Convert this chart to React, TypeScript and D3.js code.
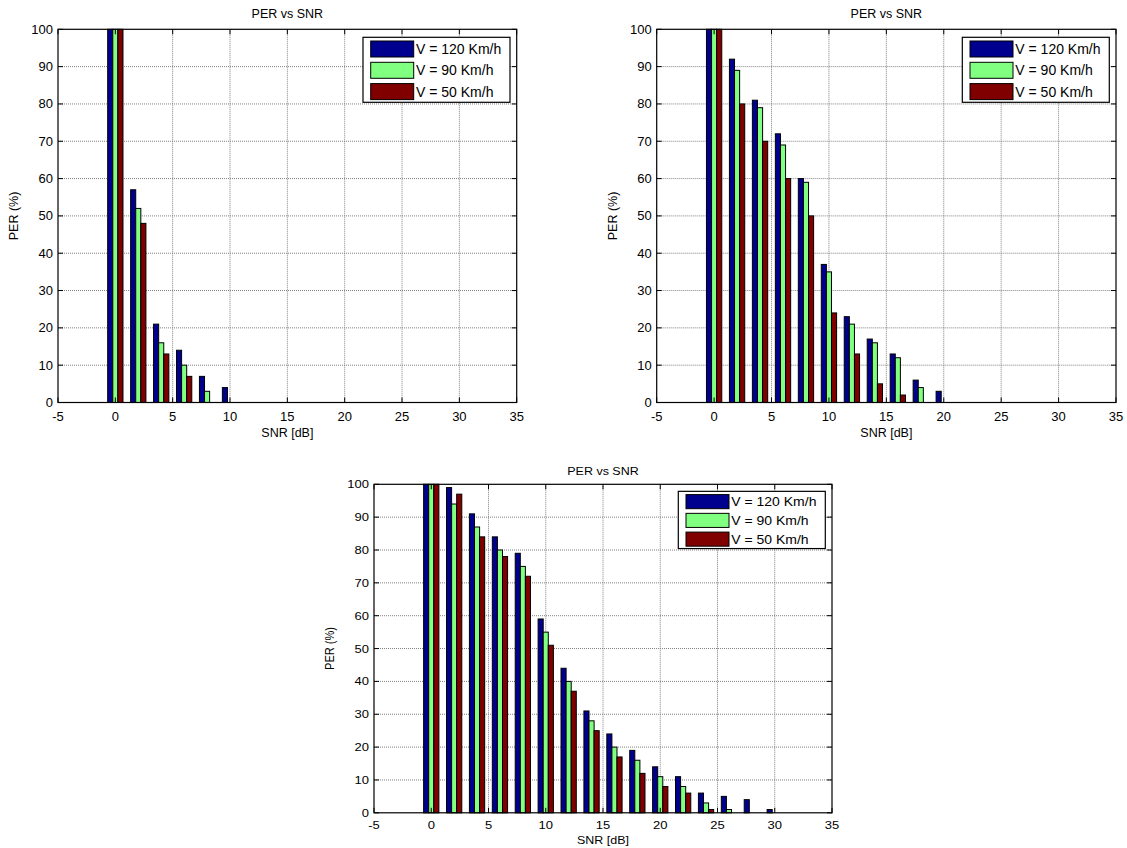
import React from "react";
import * as d3 from "d3";

const snrGroups = [0, 2, 4, 6, 8, 10, 12, 14, 16, 18, 20, 22, 24, 26, 28, 30];
const seriesNames = ["V = 120 Km/h", "V = 90 Km/h", "V = 50 Km/h"];
const seriesColors = ["#00008F", "#80FF80", "#800000"];
const xTicks = [-5, 0, 5, 10, 15, 20, 25, 30, 35];
const yTicks = [0, 10, 20, 30, 40, 50, 60, 70, 80, 90, 100];

const p1v120 = [100, 57, 21, 14, 7, 4, 0, 0, 0, 0, 0, 0, 0, 0, 0, 0];
const p1v90 = [100, 52, 16, 10, 3, 0, 0, 0, 0, 0, 0, 0, 0, 0, 0, 0];
const p1v50 = [100, 48, 13, 7, 0, 0, 0, 0, 0, 0, 0, 0, 0, 0, 0, 0];

const p2v120 = [100, 92, 81, 72, 60, 37, 23, 17, 13, 6, 3, 0, 0, 0, 0, 0];
const p2v90 = [100, 89, 79, 69, 59, 35, 21, 16, 12, 4, 0, 0, 0, 0, 0, 0];
const p2v50 = [100, 80, 70, 60, 50, 24, 13, 5, 2, 0, 0, 0, 0, 0, 0, 0];

const p3v120 = [100, 99, 91, 84, 79, 59, 44, 31, 24, 19, 14, 11, 6, 5, 4, 1];
const p3v90 = [100, 94, 87, 80, 75, 55, 40, 28, 20, 16, 11, 8, 3, 1, 0, 0];
const p3v50 = [100, 97, 84, 78, 72, 51, 37, 25, 17, 12, 8, 6, 1, 0, 0, 0];

const FONT = "Liberation Sans, Arial, sans-serif";

type PanelProps = {
  left: number;
  top: number;
  right: number;
  bottom: number;
  series: number[][];
  tickBase: number;
  labelBase: number;
  titleBase: number;
  yLabelX: number;
};

function T({ x, y, ky, children, anchor = "start", size = 13, rotate = 0 }: any) {
  return (
    <g transform={`translate(${x},${y}) rotate(${rotate}) scale(1,${ky})`}>
      <text x={0} y={0} textAnchor={anchor} fontSize={size} fontFamily={FONT} fill="#000">
        {children}
      </text>
    </g>
  );
}

function Panel(p: PanelProps) {
  const x = d3.scaleLinear().domain([-5, 35]).range([p.left, p.right]);
  const y = d3.scaleLinear().domain([0, 100]).range([p.bottom, p.top]);
  const ky = (p.bottom - p.top) / 373.2;
  const bw = 2 * (2 / 3) / 3; // bar width in data units
  const tickLen = 5;

  // legend geometry
  const lgW = 147;
  const lgH = 65 * ky;
  const lgX = p.right - 6.7 - lgW;
  const lgY = p.top + 8 * ky;
  const rowPitch = 21.3 * ky;
  const swH = 16 * ky;

  return (
    <g>
      <rect x={p.left} y={p.top} width={p.right - p.left} height={p.bottom - p.top} fill="#fff" />
      {xTicks.slice(1, -1).map((t) => (
        <line key={"gx" + t} x1={x(t)} x2={x(t)} y1={p.top} y2={p.bottom} stroke="#808080" strokeDasharray="1,1" />
      ))}
      {yTicks.slice(1, -1).map((t) => (
        <line key={"gy" + t} y1={y(t)} y2={y(t)} x1={p.left} x2={p.right} stroke="#808080" strokeDasharray="1,1" />
      ))}
      {p.series.map((vals, si) =>
        vals.map((v, i) => {
          const cx = snrGroups[i] + (si - 1) * bw;
          const x0 = x(cx - bw / 2);
          const x1 = x(cx + bw / 2);
          return (
            <rect
              key={`b${si}-${i}`}
              x={x0}
              y={y(v)}
              width={x1 - x0}
              height={y(0) - y(v)}
              fill={seriesColors[si]}
              stroke="#000"
              strokeWidth={1}
            />
          );
        })
      )}
      {xTicks.map((t) => (
        <g key={"tx" + t}>
          <line x1={x(t)} x2={x(t)} y1={p.bottom} y2={p.bottom - tickLen} stroke="#000" />
          <line x1={x(t)} x2={x(t)} y1={p.top} y2={p.top + tickLen} stroke="#000" />
        </g>
      ))}
      {yTicks.map((t) => (
        <g key={"ty" + t}>
          <line y1={y(t)} y2={y(t)} x1={p.left} x2={p.left + tickLen} stroke="#000" />
          <line y1={y(t)} y2={y(t)} x1={p.right} x2={p.right - tickLen} stroke="#000" />
        </g>
      ))}
      <rect x={p.left} y={p.top} width={p.right - p.left} height={p.bottom - p.top} fill="none" stroke="#000" strokeWidth={1.2} />
      {xTicks.map((t) => (
        <T key={"lx" + t} x={x(t)} y={p.tickBase} ky={ky} anchor="middle">
          {String(t)}
        </T>
      ))}
      {yTicks.map((t) => (
        <T key={"ly" + t} x={p.left - 5} y={y(t) + 4.5 * ky} ky={ky} anchor="end">
          {String(t)}
        </T>
      ))}
      <T x={(p.left + p.right) / 2} y={p.labelBase} ky={ky} anchor="middle" size={12.5}>
        SNR [dB]
      </T>
      <T x={(p.left + p.right) / 2} y={p.titleBase} ky={ky} anchor="middle" size={12.5}>
        PER vs SNR
      </T>
      <g transform={`translate(${p.yLabelX},${(p.top + p.bottom) / 2}) rotate(-90) scale(${ky},1)`}>
        <text x={0} y={0} textAnchor="middle" fontSize={12.5} fontFamily={FONT}>
          PER (%)
        </text>
      </g>
      <rect x={lgX} y={lgY} width={lgW} height={lgH} fill="#fff" stroke="#000" strokeWidth={1.2} />
      {seriesNames.map((n, si) => {
        const ry = lgY + 3.7 * ky + si * rowPitch;
        return (
          <g key={"lg" + si}>
            <rect x={lgX + 7.7} y={ry} width={43} height={swH} fill={seriesColors[si]} stroke="#000" />
            <T x={lgX + 53} y={ry + swH / 2 + 5 * ky} ky={ky} size={14}>
              {n}
            </T>
          </g>
        );
      })}
    </g>
  );
}

export default function App() {
  return (
    <svg
      width={1127}
      height={848}
      style={{ position: "absolute", left: 0, top: 0, background: "#fff" }}
    >
      <rect x={0} y={0} width={1127} height={848} fill="#fff" />
      <Panel
        left={58}
        top={29.3}
        right={516.7}
        bottom={402.5}
        series={[p1v120, p1v90, p1v50]}
        tickBase={421}
        labelBase={437}
        titleBase={18.3}
        yLabelX={18}
      />
      <Panel
        left={656.7}
        top={29.3}
        right={1116}
        bottom={402.5}
        series={[p2v120, p2v90, p2v50]}
        tickBase={421}
        labelBase={437}
        titleBase={18.3}
        yLabelX={617}
      />
      <Panel
        left={374}
        top={484.3}
        right={832}
        bottom={812.8}
        series={[p3v120, p3v90, p3v50]}
        tickBase={829}
        labelBase={844}
        titleBase={475}
        yLabelX={334}
      />
    </svg>
  );
}
